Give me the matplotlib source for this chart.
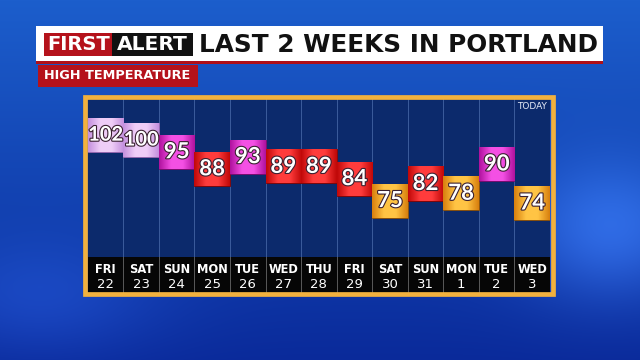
import numpy as np
import matplotlib
matplotlib.use("Agg")
import matplotlib.pyplot as plt
from matplotlib.patches import Rectangle
from matplotlib.colors import LinearSegmentedColormap
import matplotlib.patheffects as pe

days = ["FRI", "SAT", "SUN", "MON", "TUE", "WED", "THU",
        "FRI", "SAT", "SUN", "MON", "TUE", "WED"]
dates = ["22", "23", "24", "25", "26", "27", "28",
         "29", "30", "31", "1", "2", "3"]
highs = [102, 100, 95, 88, 93, 89, 89, 84, 75, 82, 78, 90, 74]

W, H = 640, 360


def frect(x0, y0, x1, y1, **kw):
    # rectangle in pixel coords (origin top-left) on the figure
    r = Rectangle((x0 / W, 1 - y1 / H), (x1 - x0) / W, (y1 - y0) / H,
                  transform=fig.transFigure, **kw)
    fig.add_artist(r)
    return r


def fit(t, width_px):
    r = fig.canvas.get_renderer()
    w = t.get_window_extent(r).width
    t.set_fontsize(t.get_fontsize() * width_px / w)


# colour for each temperature band: (edge, centre, outline)
def band(t):
    if t >= 100:
        return "#c490de", "#efcdf7", "#9a6ab0"
    if t >= 90:
        return "#b0129e", "#f450e4", "#7a0a6c"
    if t >= 80:
        return "#c00808", "#ff3c3c", "#800404"
    return "#d8800e", "#ffc444", "#8a5006"


fig = plt.figure(figsize=(6.4, 3.6), dpi=100)

# sky background
bg = fig.add_axes([0, 0, 1, 1])
yy, xx = np.mgrid[0:H, 0:W]
top = np.array([0x1c, 0x5e, 0xcc]) / 255
bot = np.array([0x0a, 0x2a, 0x9a]) / 255
f = (yy / H)[..., None]
img = top * (1 - f) + bot * f
glow = np.exp(-(((xx - 610) / 90.0) ** 2 + ((yy - 230) / 70.0) ** 2))[..., None]
img = img + glow * np.array([0.12, 0.18, 0.22])
glow2 = np.exp(-(((xx - 40) / 120.0) ** 2 + ((yy - 300) / 60.0) ** 2))[..., None]
img = img + glow2 * np.array([0.05, 0.08, 0.12])
bg.imshow(np.clip(img, 0, 1), aspect="auto", extent=[0, W, H, 0])
bg.set_axis_off()

# title bar
frect(36, 26, 603, 62, facecolor="white", zorder=2)
frect(36, 61, 603, 63.5, facecolor="#b01018", zorder=2)
frect(44, 33, 112, 56, facecolor="#b5121b", zorder=3)
frect(112, 33, 193, 56, facecolor="#111111", zorder=3)
t1 = fig.text(47.5 / W, 1 - 45 / H, "FIRST", color="white", fontsize=15,
              fontweight="bold", family="DejaVu Sans", va="center", ha="left", zorder=4)
t2 = fig.text(116.5 / W, 1 - 45 / H, "ALERT", color="white", fontsize=15,
              fontweight="bold", family="DejaVu Sans", va="center", ha="left", zorder=4)
t3 = fig.text(199 / W, 1 - 44.5 / H, "LAST 2 WEEKS IN PORTLAND", color="#111111",
              fontsize=18, fontweight="bold", family="DejaVu Sans",
              va="center", ha="left", zorder=4)
frect(37.5, 65, 198, 86.5, facecolor="#b5121b", zorder=2)
t4 = fig.text(44 / W, 1 - 75.5 / H, "HIGH TEMPERATURE", color="white", fontsize=10,
              family="DejaVu Sans", fontweight="semibold", va="center", ha="left", zorder=4)
fit(t1, 63)
fit(t2, 71)
fit(t3, 399)
fit(t4, 147)

# orange frame
frect(84.5, 97, 552.5, 294, facecolor="none", edgecolor="#f2b13e",
      linewidth=3.4, zorder=5)

# main panel
n = len(highs)
x = np.arange(n)
ax = fig.add_axes([87.8 / W, 1 - 257 / H, (550 - 87.8) / W, (257 - 99) / H])
ax.set_facecolor("#0c2a6c")
for xi in x[:-1]:
    ax.axvline(xi + 0.5, color="#3c5c9c", linewidth=0.7, zorder=1)

half = 6.97
bars = ax.bar(x, [2 * half] * n, bottom=[h - half for h in highs], width=1.0,
              zorder=3)
for b, h in zip(bars, highs):
    edge, centre, line = band(h)
    b.set_facecolor(edge)
    b.set_edgecolor(line)
    b.set_linewidth(0.6)
    cmap = LinearSegmentedColormap.from_list("g", [edge, centre, centre, edge])
    grad = np.tile(np.linspace(0, 1, 64), (8, 1))
    x0, y0 = b.get_x(), b.get_y()
    im = ax.imshow(grad, cmap=cmap, aspect="auto", zorder=3.5,
                   extent=[x0, x0 + b.get_width(), y0, y0 + b.get_height()])
    im.set_clip_path(b)
    size = 14.5 if h >= 100 else 16
    ax.text(b.get_x() + b.get_width() / 2, h, str(h), color="white", fontsize=size,
            fontweight="bold", family="Lato", ha="center", va="center", zorder=6,
            path_effects=[pe.withStroke(linewidth=1.6, foreground="#3a2030")])
ax.set_xlim(-0.5, n - 0.5)
ax.set_ylim(51.9, 116.6)
ax.text(n - 1, 0.95, "TODAY", transform=ax.get_xaxis_transform(), color="#e6ecf8",
        fontsize=6.5, ha="center", va="center", zorder=6)
ax.set_xticks([])
ax.set_yticks([])
for s in ax.spines.values():
    s.set_visible(False)

# day label band
ab = fig.add_axes([87.8 / W, 1 - 293 / H, (550 - 87.8) / W, (293 - 257) / H])
ab.set_facecolor("#060606")
ab.set_xlim(-0.5, n - 0.5)
ab.set_ylim(0, 1)
for xi in x[:-1]:
    ab.axvline(xi + 0.5, color="#5a5a5a", linewidth=0.7)
for xi, d, dt in zip(x, days, dates):
    ab.text(xi, 0.64, d, color="white", fontsize=8.3, fontweight="semibold",
            ha="center", va="center")
    ab.text(xi, 0.24, dt, color="white", fontsize=9.5, ha="center", va="center")
ab.set_xticks([])
ab.set_yticks([])
for s in ab.spines.values():
    s.set_visible(False)

fig.savefig("out.png", dpi=100)
